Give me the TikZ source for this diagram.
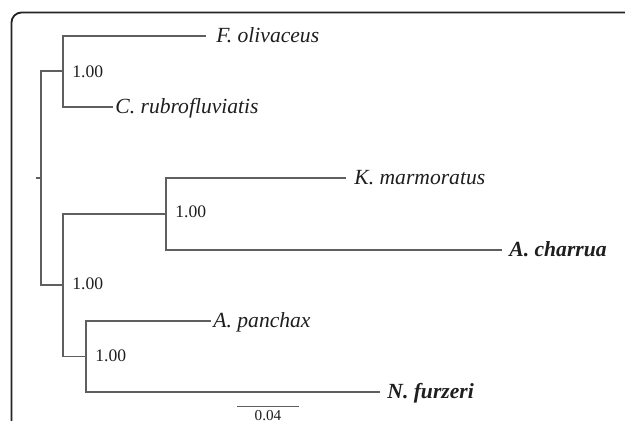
\documentclass[tikz,border=0pt]{standalone}
\usepackage{fontspec}
\setmainfont{Liberation Serif}
\definecolor{treegray}{RGB}{95,95,95}
\definecolor{ink}{RGB}{30,30,30}
\definecolor{framecol}{RGB}{35,35,35}
\begin{document}
\begin{tikzpicture}[x=0.5pt,y=-0.5pt,
  branch/.style={draw=treegray, line width=0.55pt},
  frame/.style={draw=framecol, line width=0.9pt, rounded corners=5pt},
  taxon/.style={anchor=base west, inner sep=0pt, text=ink,
    font=\fontsize{10.8}{13}\selectfont\itshape},
  keytaxon/.style={taxon, font=\fontsize{10.8}{13}\selectfont\bfseries\itshape},
  support/.style={anchor=base west, inner sep=0pt, text=ink,
    font=\fontsize{8.8}{10}\selectfont},
  scalelabel/.style={anchor=north, inner sep=0pt, text=ink,
    font=\fontsize{7.6}{9}\selectfont}]
\useasboundingbox (0,0) rectangle (625,421);
\clip (0,0) rectangle (625,421);

% panel frame
\draw[frame] (11.5,430) -- (11.5,12.5) -- (640,12.5);

% internal nodes
\coordinate (stub) at (36,178);
\coordinate (root) at (41,178);
\coordinate (up)   at (63,71);
\coordinate (low)  at (63,285);
\coordinate (ka)   at (166,214);
\coordinate (an)   at (86,356.5);

% leaf tips
\coordinate (fol) at (206,36);
\coordinate (cru) at (113,107);
\coordinate (kma) at (346,178);
\coordinate (ach) at (502,250);
\coordinate (apa) at (211,321);
\coordinate (nfu) at (380,392);

% branches
\draw[branch] (stub) -- (root);
\draw[branch] (root) |- (up);
\draw[branch] (root) |- (low);
\draw[branch] (up) |- (fol);
\draw[branch] (up) |- (cru);
\draw[branch] (low) |- (ka);
\draw[branch] (low) |- (an);
\draw[branch] (ka) |- (kma);
\draw[branch] (ka) |- (ach);
\draw[branch] (an) |- (apa);
\draw[branch] (an) |- (nfu);

% taxon names
\node[taxon]    (folL) at (216,43)  {F. olivaceus};
\node[taxon]    (cruL) at (115,114) {C. rubrofluviatis};
\node[taxon]    (kmaL) at (354,185) {K. marmoratus};
\node[keytaxon] (achL) at (509,257) {A. charrua};
\node[taxon]    (apaL) at (213,328) {A. panchax};
\node[keytaxon] (nfuL) at (387,398.5) {N. furzeri};

% support values
\node[support] (upS)  at (72,78)    {1.00};
\node[support] (lowS) at (72,289.5) {1.00};
\node[support] (kaS)  at (175,218)  {1.00};
\node[support] (anS)  at (95,361.5) {1.00};

% scale bar
\coordinate (sbL) at (237,406.5);
\coordinate (sbR) at (299,406.5);
\draw[branch] (sbL) -- (sbR);
\node[scalelabel] (sbT) at (268,409.5) {0.04};
\end{tikzpicture}
\end{document}
